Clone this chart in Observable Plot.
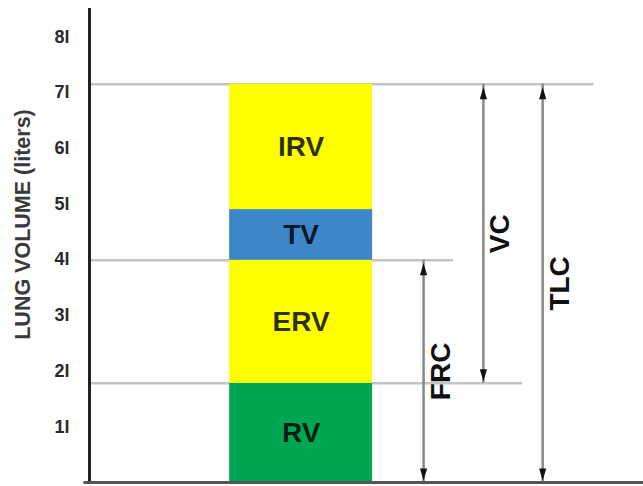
<!DOCTYPE html>
<html>
<head>
<meta charset="utf-8">
<script src="https://cdn.jsdelivr.net/npm/d3@7"></script>
<script src="https://cdn.jsdelivr.net/npm/@observablehq/plot@0.6"></script>
<style>
  html, body { margin: 0; padding: 0; background: #fff; }
</style>
</head>
<body>
<div id="chart"></div>
<script>
// Lung volume segments (liters), bottom to top
const segments = ["RV", "ERV", "TV", "IRV"];
const segBottom = [0, 1.78, 3.99, 4.9];
const segTop = [1.78, 3.99, 4.9, 7.15];
const segColors = ["#00a651", "#ffff00", "#3b87c8", "#ffff00"];

// Capacities (arrows)
const capacities = ["FRC", "VC", "TLC"];
const capFrom = [0, 1.78, 0];
const capTo = [3.99, 7.15, 7.15];
const capX = [60.3, 71.1, 81.8];

// Reference lines
const refLevels = [7.15, 3.99, 1.78];
const refEnd = [91, 65.7, 78.2];

// Y ticks
const tickValues = [1, 2, 3, 4, 5, 6, 7, 8];
const tickLabels = ["1l", "2l", "3l", "4l", "5l", "6l", "7l", "8l"];
const yTitle = "LUNG VOLUME (liters)";

// Bar horizontal extent (x units, 0..100)
const barLeft = 25.3, barRight = 51.1;

const segData = segments.map((s, i) => ({name: s, y1: segBottom[i], y2: segTop[i]}));
const capData = capacities.map((c, i) => ({name: c, from: capFrom[i], to: capTo[i], x: capX[i]}));
const refData = refLevels.map((l, i) => ({level: l, end: refEnd[i]}));

const arrowUp = {draw(ctx) { ctx.moveTo(0, 0); ctx.lineTo(3.6, 12); ctx.lineTo(-3.6, 12); ctx.closePath(); }};
const arrowDown = {draw(ctx) { ctx.moveTo(0, 0); ctx.lineTo(3.6, -12); ctx.lineTo(-3.6, -12); ctx.closePath(); }};

const chart = Plot.plot({
  width: 643,
  height: 486,
  marginLeft: 89,
  marginTop: 8,
  marginBottom: 4,
  marginRight: 0,
  x: {domain: [0, 100], axis: null},
  y: {domain: [0, 8.51], axis: null},
  color: {domain: segments, range: segColors},
  style: {background: "#fff", fontFamily: "'Liberation Sans', Arial, sans-serif"},
  marks: [
    Plot.ruleY(refData, {y: "level", x1: 0, x2: "end", stroke: "#c4c4c4", strokeWidth: 2.5}),
    Plot.rect(segData, {x1: barLeft, x2: barRight, y1: "y1", y2: "y2", fill: "name"}),
    Plot.text(segData, {x: (barLeft + barRight) / 2, y: d => (d.y1 + d.y2) / 2, text: "name",
      fontSize: 28, fontWeight: "bold", fill: "#000", fillOpacity: 0.82}),
    Plot.ruleX(capData, {x: "x", y1: "from", y2: "to", stroke: "#888", strokeWidth: 2.5}),
    Plot.dot(capData, {x: "x", y: "to", symbol: arrowUp, fill: "#111", stroke: null, dy: 3}),
    Plot.dot(capData, {x: "x", y: "from", symbol: arrowDown, fill: "#111", stroke: null, dy: -2}),
    Plot.text(capData, {x: "x", y: d => (d.from + d.to) / 2, text: "name", rotate: -90, dx: 17,
      fontSize: 28, fontWeight: "bold", fill: "#111"}),
    Plot.axisY(tickValues, {tickSize: 0, tickPadding: 20, label: null,
      tickFormat: d => tickLabels[tickValues.indexOf(d)],
      fontSize: 18, fontWeight: "bold", fill: "#2a2a2a"}),
    Plot.text([yTitle], {frameAnchor: "left", textAnchor: "middle", dx: -66, dy: -21, rotate: -90,
      fontSize: 21.5, fontWeight: "bold", fill: "#3a3a3a"}),
    Plot.ruleX([0], {stroke: "#222", strokeWidth: 3}),
    Plot.ruleY([0], {x1: -1, x2: 100, stroke: "#555", strokeWidth: 3})
  ]
});
document.getElementById("chart").appendChild(chart);
</script>
</body>
</html>
